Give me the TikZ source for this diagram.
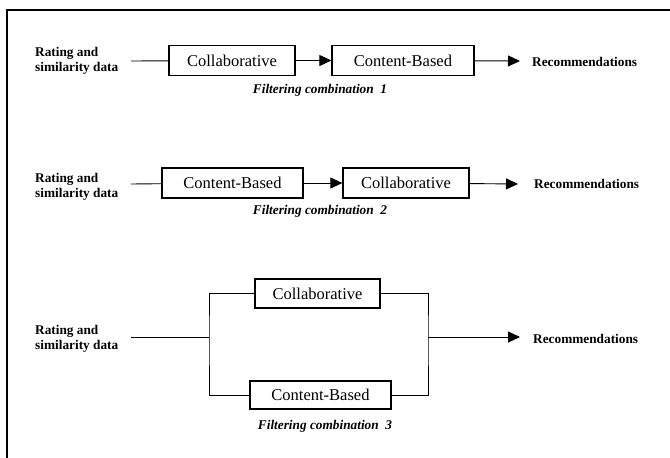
\documentclass[tikz,border=0pt]{standalone}
\usepackage{fontspec}
\setmainfont{Liberation Serif}
\usetikzlibrary{arrows.meta}
\begin{document}
\begin{tikzpicture}[x=1pt,y=-1pt,
  box/.style={draw,line width=1.2pt,inner sep=0pt,minimum height=30pt,font=\fontsize{16.5}{19}\selectfont},
  src/.style={anchor=west,align=left,inner sep=0pt,font=\fontsize{13.3}{15}\selectfont\bfseries},
  rec/.style={anchor=west,inner sep=0pt,font=\fontsize{13.3}{15}\selectfont\bfseries},
  combtext/.style={inner sep=0pt,font=\fontsize{13.3}{15}\selectfont\bfseries\itshape},
  link/.style={line width=0.9pt},
  tip/.style={line width=0.9pt,-{Triangle[length=12pt,width=11pt]}}]
\useasboundingbox (0,0) rectangle (670,458);
\draw[line width=2pt](7,459)--(7,10)--(671,10);
\node[src](in1) at (35,61){Rating and\\similarity data};
\node[box,minimum width=126pt](c1) at (232,60.5){Collaborative};
\node[box,minimum width=142pt](b1) at (403,60.5){Content-Based};
\node[rec](r1) at (532,62){Recommendations};
\node[combtext](f1) at (320,90){Filtering combination\ \ 1};
\coordinate(s1) at (131,61);
\coordinate(e1) at (520,61);
\draw[link](s1)--(c1);
\draw[tip](c1)--(b1);
\draw[tip](b1)--(e1);
\node[src](in2) at (35,187){Rating and\\similarity data};
\node[box,minimum width=141pt](b2) at (232.5,183){Content-Based};
\node[box,minimum width=126pt](c2) at (406,183){Collaborative};
\node[rec](r2) at (534,184){Recommendations};
\node[combtext](f2) at (320,211){Filtering combination\ \ 2};
\coordinate(s2) at (131,184);
\coordinate(e2) at (518,184);
\draw[link](s2)--(b2);
\draw[tip](b2)--(c2);
\draw[tip](c2)--(e2);
\node[src](in3) at (35,339){Rating and\\similarity data};
\node[box,minimum width=125pt,minimum height=29pt](c3) at (317.5,293.5){Collaborative};
\node[box,minimum width=141pt,minimum height=28pt](b3) at (320.5,395){Content-Based};
\node[rec](r3) at (533,339){Recommendations};
\node[combtext](f3) at (325,426){Filtering combination\ \ 3};
\coordinate(s3) at (131,337);
\coordinate(j3) at (209,337);
\coordinate(k3) at (428,337);
\coordinate(e3) at (520,337);
\draw[link](s3)--(j3);
\draw[link](c3.west)-|(j3)|-(b3.west);
\draw[link](c3.east)-|(k3)|-(b3.east);
\draw[tip](k3)--(e3);
\end{tikzpicture}
\end{document}
